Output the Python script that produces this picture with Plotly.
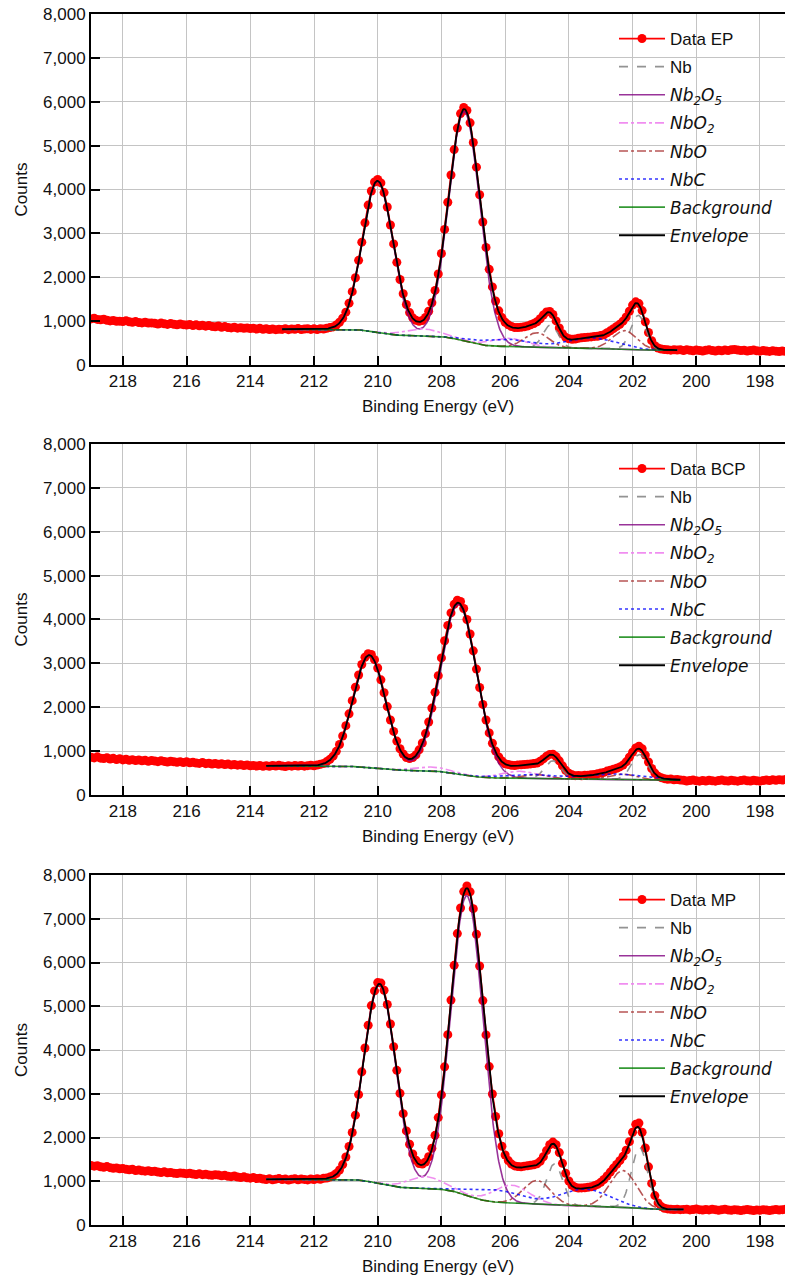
import numpy as np
import plotly.graph_objects as go

# ---------------- data ----------------
SAMPLES = ["EP", "BCP", "MP"]
# binding-energy grid of the measurement: 219.0 eV down to 197.0 eV, 0.1 eV step
energy = np.round(219.0 - 0.1 * np.arange(221), 2)

EP_COUNTS = [
    1050, 1065, 1040, 1030, 1045, 1020, 1005, 1015, 995, 1000,
    990, 1010, 985, 975, 990, 970, 960, 975, 955, 960,
    950, 935, 955, 940, 925, 945, 930, 915, 935, 920,
    910, 925, 900, 915, 895, 905, 885, 900, 880, 870,
    890, 860, 875, 855, 845, 860, 840, 850, 835, 845,
    830, 840, 820, 835, 815, 825, 810, 820, 805, 815,
    812, 828, 806, 822, 815, 830, 808, 818, 826, 811,
    824, 810, 829, 818, 835, 852, 868, 912, 975, 1066,
    1205, 1410, 1672, 1990, 2385, 2800, 3240, 3645, 3965, 4170,
    4230, 4150, 3930, 3600, 3190, 2760, 2340, 1950, 1625, 1380,
    1195, 1075, 1018, 995, 1012, 1085, 1225, 1420, 1700, 2075,
    2540, 3090, 3710, 4330, 4910, 5400, 5730, 5870, 5800, 5520,
    5070, 4510, 3880, 3260, 2680, 2180, 1780, 1460, 1235, 1080,
    975, 915, 878, 855, 852, 860, 872, 890, 915, 945,
    985, 1055, 1140, 1210, 1220, 1150, 1005, 845, 712, 630,
    598, 585, 592, 608, 620, 628, 635, 640, 652, 655,
    672, 690, 735, 778, 828, 880, 930, 1000, 1095, 1225,
    1365, 1440, 1400, 1240, 985, 740, 555, 440, 388, 365,
    352, 345, 338, 346, 340,
    345, 330, 350, 335, 325, 340, 330, 320, 335, 345, 330, 320, 335, 325, 340, 330,
    345, 355, 340, 330, 335, 320, 330, 340, 325, 315, 330, 320, 310, 325, 315, 305,
    320, 310, 300, 315]
BCP_COUNTS = [
    860, 845, 870, 840, 830, 850, 820, 835, 810, 825,
    800, 815, 790, 805, 785, 800, 780, 790, 770, 785,
    775, 760, 780, 765, 750, 770, 755, 745, 760, 740,
    755, 735, 745, 730, 720, 740, 715, 725, 705, 720,
    700, 710, 695, 705, 685, 695, 680, 690, 670, 685,
    665, 675, 660, 670, 655,
    668, 655, 672, 660, 676, 662, 650, 668, 658, 670,
    662, 675, 658, 668, 680, 665, 684, 698, 718, 762,
    812, 885, 995, 1150, 1345, 1580, 1850, 2150, 2455, 2735,
    2975, 3140, 3220, 3205, 3085, 2895, 2625, 2330, 2015, 1710,
    1450, 1228, 1055, 935, 852, 830, 852, 915, 1030, 1185,
    1400, 1665, 1980, 2340, 2720, 3125, 3515, 3865, 4150, 4345,
    4440, 4410, 4250, 4000, 3670, 3285, 2870, 2450, 2065, 1710,
    1415, 1180, 1000, 868, 775, 712, 695, 678, 672, 685,
    688, 694, 700, 708, 718, 730, 768, 822, 885, 925,
    930, 875, 778, 665, 562, 498, 462, 440, 445, 438,
    452, 448, 462, 470, 485, 500, 515, 545, 565, 588,
    610, 640, 682, 755, 860, 975, 1070, 1110, 1055, 910,
    752, 605, 500, 428, 395, 372, 358, 362, 348, 352, 340,
    335, 320, 330, 340, 325, 315, 330, 320, 335, 325, 315, 330, 340, 325, 320, 335,
    325, 315, 330, 340, 325, 320, 335, 325, 315, 330, 340, 330, 345, 335, 350, 340,
    355, 345, 350]
MP_COUNTS = [
    1360, 1345, 1355, 1330, 1320, 1335, 1310, 1295, 1305, 1285,
    1290, 1275, 1260, 1275, 1245, 1255, 1240, 1230, 1240, 1220,
    1230, 1210, 1200, 1215, 1195, 1200, 1185, 1175, 1190, 1180,
    1170, 1185, 1165, 1155, 1170, 1150, 1160, 1145, 1135, 1150,
    1140, 1125, 1135, 1115, 1105, 1120, 1095, 1085, 1100, 1080,
    1070, 1085, 1060, 1070, 1050,
    1040, 1055, 1032, 1048, 1060, 1038, 1050, 1028, 1045, 1058,
    1035, 1050, 1042, 1030, 1052,
    1040, 1058, 1045, 1066, 1072, 1095, 1125, 1178, 1258, 1380,
    1555, 1795, 2115, 2510, 2980, 3500, 4045, 4565, 5015, 5350,
    5540, 5530, 5365, 5040, 4595, 4075, 3535, 3010, 2545, 2150,
    1845, 1625, 1480, 1405, 1395, 1440, 1560, 1755, 2050, 2455,
    2975, 3615, 4350, 5140, 5935, 6660, 7245, 7620, 7750, 7615,
    7230, 6645, 5920, 5130, 4345, 3620, 2995, 2480, 2085, 1800,
    1600, 1472, 1392, 1350, 1335, 1330, 1345, 1352, 1365, 1378,
    1400, 1455, 1560, 1700, 1835, 1895, 1835, 1655, 1410, 1180,
    1005, 905, 860, 845, 848, 852, 862, 875, 895, 928,
    975, 1040, 1120, 1210, 1300, 1385, 1470, 1570, 1710, 1905,
    2120, 2300, 2330, 2120, 1760, 1330, 950, 672, 505, 420,
    382, 368, 360, 352, 358, 350, 356,
    360, 345, 355, 365, 350, 340, 355, 345, 360, 350, 335, 350, 360, 345, 335, 350,
    340, 330, 345, 355, 340, 330, 345, 335, 350, 340, 330, 345, 355, 340, 350, 360,
    345, 355]
COUNTS = [EP_COUNTS, BCP_COUNTS, MP_COUNTS]

# fit window and Shirley background end levels
FIT_HI = [213.0, 213.5, 213.5]
FIT_LO = [200.6, 200.5, 200.4]
BG_HIGH = [815, 665, 1045]
BG_LOW = [340, 340, 355]

# fitted components (3d5/2, 3d3/2): position (eV), height (counts), FWHM (eV)
NB_POS = [[201.82, 204.57], [201.78, 204.50], [201.78, 204.45]]
NB_AMP = [[780, 520], [575, 410], [1400, 940]]
NB_FWHM = [[0.55, 0.55], [0.60, 0.60], [0.60, 0.60]]
NB2O5_POS = [[207.28, 210.00], [207.46, 210.26], [207.20, 209.94]]
NB2O5_AMP = [[5230, 3450], [3873, 2575], [6850, 4560]]
NB2O5_FWHM = [[1.15, 1.12], [1.34, 1.20], [1.18, 1.18]]
NBO2_POS = [[205.90, 208.60], [205.55, 208.25], [205.80, 208.50]]
NBO2_AMP = [[190, 160], [160, 90], [410, 270]]
NBO2_FWHM = [[1.3, 1.3], [1.3, 1.3], [1.3, 1.3]]
NBO_POS = [[202.25, 205.00], [202.30, 205.00], [202.30, 205.00]]
NBO_AMP = [[420, 330], [120, 90], [840, 540]]
NBO_FWHM = [[0.9, 0.9], [0.9, 0.9], [1.0, 1.0]]
NBC_POS = [[203.30, 206.00], [202.50, 205.20], [203.50, 206.30]]
NBC_AMP = [[240, 170], [120, 90], [390, 280]]
NBC_FWHM = [[1.8, 1.8], [2.0, 2.0], [1.8, 1.8]]


def peaks(x, pos, amp, fw):
    return sum(a * np.exp(-4 * np.log(2) * (x - p) ** 2 / w ** 2) for p, a, w in zip(pos, amp, fw))


def shirley(total, hi_val, lo_val):
    rev = total[::-1]
    cum = np.concatenate([[0.0], np.cumsum((rev[1:] + rev[:-1]) / 2)])
    return (lo_val + (hi_val - lo_val) * cum / cum[-1])[::-1]


FONT = "Liberation Sans, Arial, sans-serif"
MATH = "DejaVu Sans"
TXT = "#111111"


def mt(s):
    return f'<span style="font-family:{MATH}"><i>{s}</i></span>'


NAMES = ["Nb", mt("Nb<sub>2</sub>O<sub>5</sub>"), mt("NbO<sub>2</sub>"), mt("NbO"), mt("NbC"),
         mt("Background"), mt("Envelope")]
STYLES = [dict(color="rgba(128,128,128,0.85)", dash="dash"),
          dict(color="rgba(128,0,128,0.8)", dash="solid"),
          dict(color="rgba(238,130,238,0.9)", dash="dashdot"),
          dict(color="rgba(165,42,42,0.8)", dash="dashdot"),
          dict(color="rgba(0,0,255,0.8)", dash="dot"),
          dict(color="rgba(0,128,0,0.8)", dash="solid"),
          dict(color="black", dash="solid")]
WIDTHS = [1.6, 1.6, 1.6, 1.6, 1.6, 1.6, 1.8]

Y_DOM = [[0.71462, 0.98905], [0.37842, 0.65286], [0.04222, 0.31587]]
LEG_Y = [1 - 21 / 1279, 1 - 451 / 1279, 1 - 882 / 1279]

fig = go.Figure()
for i in range(3):
    xa = "x" if i == 0 else f"x{i + 1}"
    ya = "y" if i == 0 else f"y{i + 1}"
    lg = "legend" if i == 0 else f"legend{i + 1}"
    xf = np.round(np.arange(FIT_HI[i], FIT_LO[i] - 1e-9, -0.02), 3)
    comps = [peaks(xf, NB_POS[i], NB_AMP[i], NB_FWHM[i]),
             peaks(xf, NB2O5_POS[i], NB2O5_AMP[i], NB2O5_FWHM[i]),
             peaks(xf, NBO2_POS[i], NBO2_AMP[i], NBO2_FWHM[i]),
             peaks(xf, NBO_POS[i], NBO_AMP[i], NBO_FWHM[i]),
             peaks(xf, NBC_POS[i], NBC_AMP[i], NBC_FWHM[i])]
    total = sum(comps)
    bg = shirley(total, BG_HIGH[i], BG_LOW[i])
    env = bg + total

    fig.add_trace(go.Scatter(x=energy, y=COUNTS[i], mode="lines+markers", name=f"Data {SAMPLES[i]}",
                             line=dict(color="red", width=1.8),
                             marker=dict(color="red", size=9, line=dict(width=0)),
                             xaxis=xa, yaxis=ya, legend=lg, legendgroup=f"g{i}0"))
    curves = [bg + c for c in comps] + [bg, env]
    for k, (nm, st, cv) in enumerate(zip(NAMES, STYLES, curves)):
        fig.add_trace(go.Scatter(x=xf, y=cv, mode="lines", name=nm,
                                 line=dict(color=st["color"], dash=st["dash"], width=WIDTHS[k]),
                                 xaxis=xa, yaxis=ya, legend=lg, legendgroup=f"g{i}{k + 1}"))

lay = dict(width=785, height=1279, margin=dict(l=0, r=0, t=0, b=0), template="none",
           paper_bgcolor="white", plot_bgcolor="white", showlegend=True)
for i in range(3):
    sx = "" if i == 0 else str(i + 1)
    lay[f"xaxis{sx}"] = dict(range=[219, 197.215], domain=[91 / 785, 1.0], anchor=f"y{sx}",
                             dtick=2, tick0=0, ticks="inside", ticklen=9, tickwidth=2,
                             tickcolor="black", showline=True, linewidth=2, linecolor="black",
                             mirror=True, showgrid=True, gridcolor="#c4c4c4", gridwidth=1.2,
                             zeroline=False, automargin=False,
                             tickfont=dict(family=FONT, size=17, color=TXT),
                             title=dict(text="Binding Energy (eV)", standoff=10,
                                        font=dict(family=FONT, size=17, color=TXT)))
    lay[f"yaxis{sx}"] = dict(range=[0, 8000], domain=Y_DOM[i], anchor=f"x{sx}",
                             dtick=1000, tickformat=",", ticks="inside", ticklen=9, tickwidth=2,
                             tickcolor="black", showline=True, linewidth=2, linecolor="black",
                             mirror=False, showgrid=True, gridcolor="#c4c4c4", gridwidth=1.2,
                             zeroline=False, automargin=False,
                             tickfont=dict(family=FONT, size=17, color=TXT),
                             title=dict(text="Counts", standoff=11,
                                        font=dict(family=FONT, size=17, color=TXT)))
    lay["legend" if i == 0 else f"legend{i + 1}"] = dict(
        x=614 / 785, y=LEG_Y[i], xanchor="left", yanchor="top", bgcolor="rgba(0,0,0,0)",
        borderwidth=0, itemwidth=46, tracegroupgap=3,
        font=dict(family=FONT, size=17, color=TXT))
fig.update_layout(**lay)
fig.write_html("out.html")
